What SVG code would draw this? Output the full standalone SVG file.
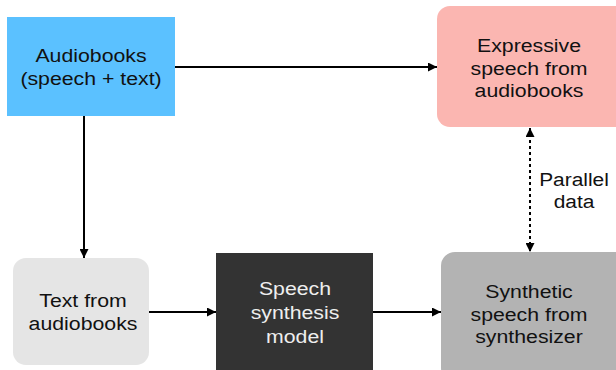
<svg xmlns="http://www.w3.org/2000/svg" width="616" height="370" viewBox="0 0 616 370">
  <defs>
    <marker id="arrow" markerUnits="userSpaceOnUse" markerWidth="10" markerHeight="9" refX="9" refY="4.5" orient="auto-start-reverse">
      <path d="M0,0 L9,4.5 L0,9 z" fill="#000"/>
    </marker>
    <style>
      .lbl { font-family: "Liberation Sans", Arial, sans-serif; font-size: 19px; text-anchor: middle; fill: #111; }
      .light { fill: #eeeeee; }
      .edge { stroke: #000; stroke-width: 2; fill: none; marker-end: url(#arrow); }
      .dotted { stroke-dasharray: 3 3; marker-start: url(#arrow); }
    </style>
  </defs>
  <rect width="616" height="370" fill="#fff"/>

  <g id="connectors">
    <line class="edge" x1="175" y1="67" x2="437" y2="67"/>
    <line class="edge" x1="84" y1="116" x2="84" y2="258"/>
    <line class="edge" x1="149" y1="312" x2="216" y2="312"/>
    <line class="edge" x1="373" y1="312" x2="441" y2="312"/>
    <line class="edge dotted" x1="530" y1="128" x2="530" y2="252"/>
    <g id="parallel-label">
      <text class="lbl" transform="translate(574 0) scale(1.1 1)" x="0" y="186">Parallel</text>
      <text class="lbl" transform="translate(574 0) scale(1.1 1)" x="0" y="208">data</text>
    </g>
  </g>

  <g id="audiobooks">
    <rect x="7" y="17" width="168" height="99" fill="#5bc1ff"/>
    <text class="lbl" transform="translate(91 0) scale(1.12 1)" x="0" y="62">Audiobooks</text>
    <text class="lbl" transform="translate(91 0) scale(1.12 1)" x="0" y="85">(speech + text)</text>
  </g>

  <g id="expressive-speech">
    <rect x="437" y="6" width="192" height="121" rx="13" fill="#fbb6b1"/>
    <text class="lbl" transform="translate(529 0) scale(1.12 1)" x="0" y="52">Expressive</text>
    <text class="lbl" transform="translate(529 0) scale(1.12 1)" x="0" y="75">speech from</text>
    <text class="lbl" transform="translate(529 0) scale(1.12 1)" x="0" y="97">audiobooks</text>
  </g>

  <g id="text-from-audiobooks">
    <rect x="13" y="258" width="136" height="107" rx="13" fill="#e5e5e5"/>
    <text class="lbl" transform="translate(83 0) scale(1.12 1)" x="0" y="307">Text from</text>
    <text class="lbl" transform="translate(83 0) scale(1.12 1)" x="0" y="330">audiobooks</text>
  </g>

  <g id="speech-synthesis-model">
    <rect x="216" y="253" width="157" height="125" fill="#333333"/>
    <text class="lbl light" transform="translate(295 0) scale(1.12 1)" x="0" y="295">Speech</text>
    <text class="lbl light" transform="translate(295 0) scale(1.12 1)" x="0" y="319">synthesis</text>
    <text class="lbl light" transform="translate(295 0) scale(1.12 1)" x="0" y="343">model</text>
  </g>

  <g id="synthetic-speech">
    <rect x="441" y="252" width="190" height="130" rx="14" fill="#b3b3b3"/>
    <text class="lbl" transform="translate(529 0) scale(1.12 1)" x="0" y="298">Synthetic</text>
    <text class="lbl" transform="translate(529 0) scale(1.12 1)" x="0" y="321">speech from</text>
    <text class="lbl" transform="translate(529 0) scale(1.12 1)" x="0" y="343">synthesizer</text>
  </g>
</svg>
